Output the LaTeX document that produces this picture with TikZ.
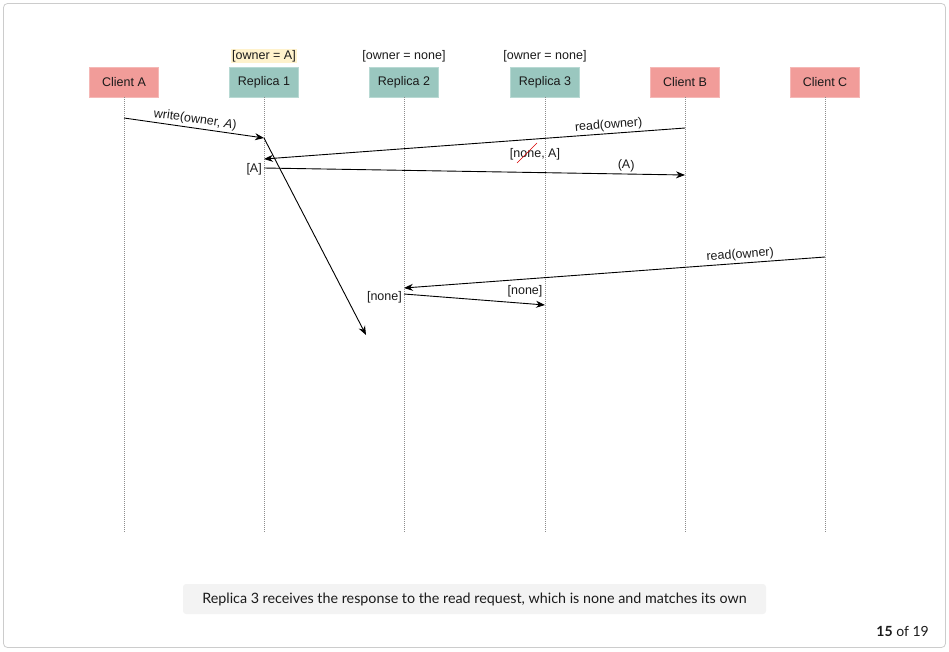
\documentclass[tikz,border=0pt]{standalone}
\usepackage{fontspec}
\setmainfont{Liberation Sans}
\newfontfamily\captionfont{Lato}
\usetikzlibrary{arrows.meta}
\definecolor{clientfill}{HTML}{F19C99}
\definecolor{clientline}{HTML}{F5B8B6}
\definecolor{replicafill}{HTML}{9AC7BF}
\definecolor{replicaline}{HTML}{B8D9D3}
\definecolor{statebg}{HTML}{FFF2CC}
\definecolor{lifegray}{HTML}{8C8C8C}
\definecolor{framegray}{HTML}{CCCCCC}
\definecolor{capbg}{HTML}{F3F3F3}
\definecolor{txt}{HTML}{1A1A1A}
\tikzset{
  actor/.style={minimum width=69pt, minimum height=30pt, inner sep=0pt,
    font=\fontsize{12.5}{14}\selectfont, text=txt, line width=0.8pt},
  client/.style={actor, fill=clientfill, draw=clientline},
  replica/.style={actor, fill=replicafill, draw=replicaline},
  statelabel/.style={font=\fontsize{12.5}{14}\selectfont, text=txt, inner sep=1.5pt},
  lifeline/.style={draw=lifegray, line width=0.6pt, dash pattern=on 1pt off 1pt},
  msg/.style={draw=black, line width=0.9pt, -{Stealth[length=9pt,width=7pt]}},
  msglabel/.style={font=\fontsize{12.5}{14}\selectfont, text=txt, inner sep=2pt}
}
\begin{document}
\begin{tikzpicture}[x=1pt,y=-1pt]
\useasboundingbox (0,0) rectangle (949,651);
% slide frame
\draw[framegray, line width=0.8pt, rounded corners=4pt] (3.5,3.5) rectangle (945.5,647.5);

% participants
\node[client]  (ca) at (124,82) {Client A};
\node[replica] (r1) at (264,82) {Replica 1};
\node[replica] (r2) at (404,82) {Replica 2};
\node[replica] (r3) at (545,82) {Replica 3};
\node[client]  (cb) at (685,82) {Client B};
\node[client]  (cc) at (825,82) {Client C};

% stored values
\node[statelabel, fill=statebg] (s1) at (264,56) {[owner = A]};
\node[statelabel] (s2) at (404,56) {[owner = none]};
\node[statelabel] (s3) at (545,56) {[owner = none]};

% lifelines
\foreach \p/\x in {ca/124, r1/264, r2/404, r3/545, cb/685, cc/825}{
  \coordinate (\p end) at (\x,533);
  \draw[lifeline] (\p.south) -- (\p end);
}

% message end points on the lifelines
\coordinate (wA)  at (124,118);
\coordinate (wR1) at (264,138);
\coordinate (rB)  at (685,128);
\coordinate (rR1) at (264,159);
\coordinate (aR1) at (264,168);
\coordinate (aB)  at (685,175);
\coordinate (lost) at (366,335);
\coordinate (rC)  at (825,257);
\coordinate (rR2) at (404,288);
\coordinate (nR2) at (404,294);
\coordinate (nR3) at (545,305);

% Client A writes to Replica 1
\draw[msg] (wA) -- node[msglabel, sloped, above, pos=0.5] {write(owner, \textit{A})} (wR1);
% replication from Replica 1, still in flight
\draw[msg] (wR1) -- (lost);
% Client B reads from Replica 1
\draw[msg] (rB) -- node[msglabel, sloped, above, pos=0.18] {read(owner)} (rR1);
\draw[msg] (aR1) -- node[msglabel, sloped, above, pos=0.86] {(A)} (aB);
\node[msglabel, anchor=east, yshift=-1.5pt] (lA) at (aR1) {[A]};
% conflicting values seen by the read
\node[msglabel] (vals) at (535,154) {[none, A]};
\draw[red!85!black, line width=0.5pt] (517,163) -- (537,143);

% Client C reads from Replica 2
\draw[msg] (rC) -- node[msglabel, sloped, above, pos=0.2] {read(owner)} (rR2);
\draw[msg] (nR2) -- (nR3);
\node[msglabel, anchor=east, yshift=-3pt] (lN) at (nR2) {[none]};
\node[msglabel] (lN3) at (525,291) {[none]};

% caption
\node[fill=capbg, rounded corners=3pt, minimum width=583pt, minimum height=30pt,
      inner sep=0pt, text=txt, font=\captionfont\fontsize{14.3}{16}\selectfont] (cap)
      at (474.5,599) {Replica 3 receives the response to the read request, which is none and matches its own};
\node[anchor=east, text=txt, inner sep=0pt, font=\captionfont\fontsize{14}{16}\selectfont] (pg)
      at (929,631) {\textbf{15} of 19};
\end{tikzpicture}
\end{document}
